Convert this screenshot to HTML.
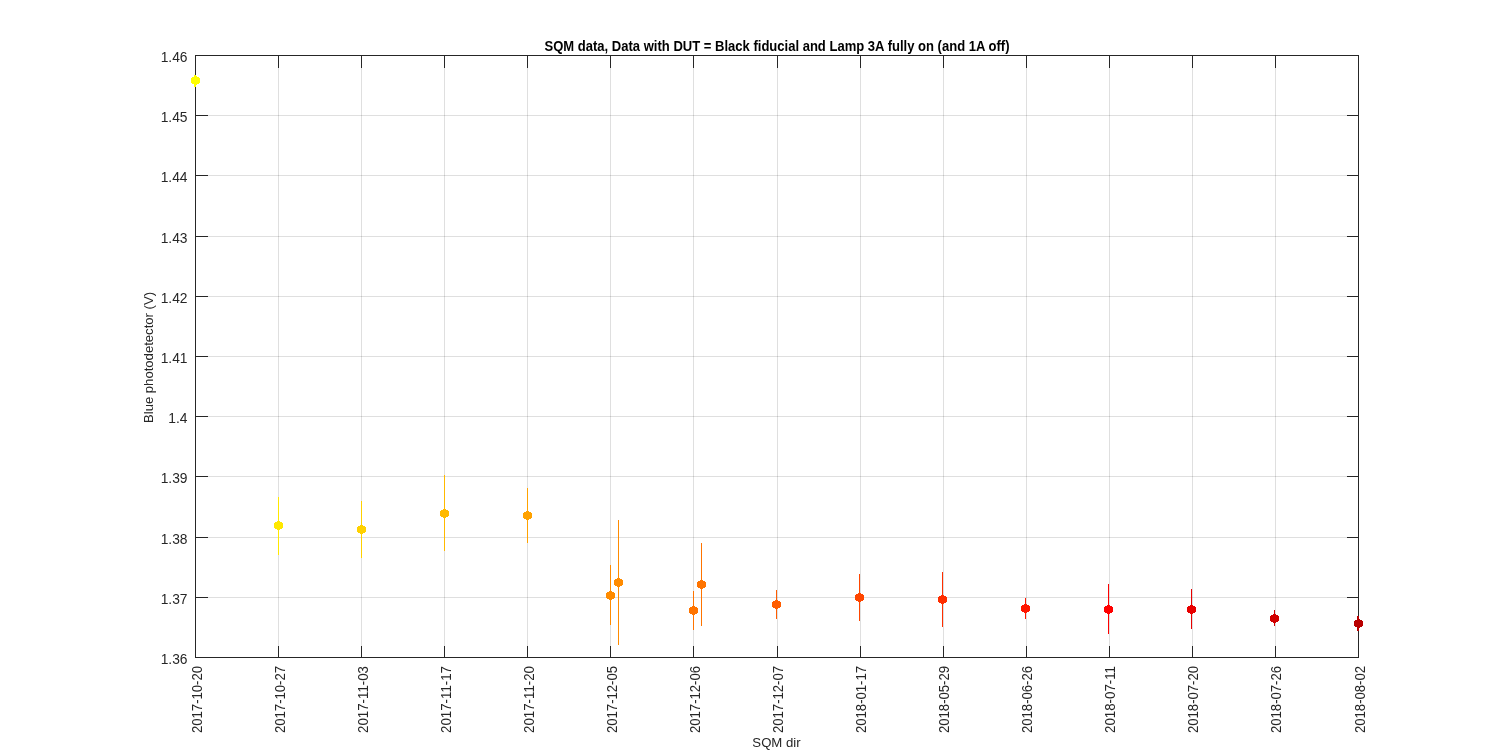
<!DOCTYPE html><html><head><meta charset="utf-8"><style>html,body{margin:0;padding:0;background:#fff;width:1500px;height:750px;overflow:hidden}svg{display:block;will-change:transform}text{font-family:"Liberation Sans",sans-serif;fill:#262626}</style></head><body>
<svg width="1500" height="750" viewBox="0 0 1500 750">
<rect x="0" y="0" width="1500" height="750" fill="#fff"/>
<path d="M278.5 56V657M361.5 56V657M444.5 56V657M527.5 56V657M610.5 56V657M693.5 56V657M777.5 56V657M860.5 56V657M943.5 56V657M1026.5 56V657M1109.5 56V657M1192.5 56V657M1275.5 56V657" stroke="#262626" stroke-opacity="0.15" stroke-width="1" fill="none" shape-rendering="crispEdges"/>
<path d="M196 115.5H1358M196 175.5H1358M196 236.5H1358M196 296.5H1358M196 356.5H1358M196 416.5H1358M196 476.5H1358M196 537.5H1358M196 597.5H1358" stroke="#262626" stroke-opacity="0.15" stroke-width="1" fill="none" shape-rendering="crispEdges"/>
<path d="M195.5 55.5H1358.5V657.5H195.5ZM195.5 657.5V645.5M195.5 55.5V67.5M278.5 657.5V645.5M278.5 55.5V67.5M361.5 657.5V645.5M361.5 55.5V67.5M444.5 657.5V645.5M444.5 55.5V67.5M527.5 657.5V645.5M527.5 55.5V67.5M610.5 657.5V645.5M610.5 55.5V67.5M693.5 657.5V645.5M693.5 55.5V67.5M777.5 657.5V645.5M777.5 55.5V67.5M860.5 657.5V645.5M860.5 55.5V67.5M943.5 657.5V645.5M943.5 55.5V67.5M1026.5 657.5V645.5M1026.5 55.5V67.5M1109.5 657.5V645.5M1109.5 55.5V67.5M1192.5 657.5V645.5M1192.5 55.5V67.5M1275.5 657.5V645.5M1275.5 55.5V67.5M1358.5 657.5V645.5M1358.5 55.5V67.5M195.5 55.5H207.5M1358.5 55.5H1346.5M195.5 115.5H207.5M1358.5 115.5H1346.5M195.5 175.5H207.5M1358.5 175.5H1346.5M195.5 236.5H207.5M1358.5 236.5H1346.5M195.5 296.5H207.5M1358.5 296.5H1346.5M195.5 356.5H207.5M1358.5 356.5H1346.5M195.5 416.5H207.5M1358.5 416.5H1346.5M195.5 476.5H207.5M1358.5 476.5H1346.5M195.5 537.5H207.5M1358.5 537.5H1346.5M195.5 597.5H207.5M1358.5 597.5H1346.5M195.5 657.5H207.5M1358.5 657.5H1346.5" stroke="#262626" stroke-width="1" fill="none" shape-rendering="crispEdges"/>
<rect x="194" y="75" width="2" height="12" fill="#ffff00" shape-rendering="crispEdges"/>
<path d="M194 76 L197 76 L197 77 L199 77 L199 78 L200 78 L200 83 L199 83 L199 84 L197 84 L197 85 L194 85 L194 84 L192 84 L192 83 L191 83 L191 78 L192 78 L192 77 L194 77Z" fill="#ffff00" shape-rendering="crispEdges"/>
<path d="M278.5 497V555" stroke="#ffe800" stroke-width="1" shape-rendering="crispEdges"/>
<path d="M277 521 L280 521 L280 522 L282 522 L282 523 L283 523 L283 528 L282 528 L282 529 L280 529 L280 530 L277 530 L277 529 L275 529 L275 528 L274 528 L274 523 L275 523 L275 522 L277 522Z" fill="#ffe800" shape-rendering="crispEdges"/>
<path d="M361.5 501V558" stroke="#ffd100" stroke-width="1" shape-rendering="crispEdges"/>
<path d="M360 525 L363 525 L363 526 L365 526 L365 527 L366 527 L366 532 L365 532 L365 533 L363 533 L363 534 L360 534 L360 533 L358 533 L358 532 L357 532 L357 527 L358 527 L358 526 L360 526Z" fill="#ffd100" shape-rendering="crispEdges"/>
<path d="M444.5 475V551" stroke="#ffb900" stroke-width="1" shape-rendering="crispEdges"/>
<path d="M443 509 L446 509 L446 510 L448 510 L448 511 L449 511 L449 516 L448 516 L448 517 L446 517 L446 518 L443 518 L443 517 L441 517 L441 516 L440 516 L440 511 L441 511 L441 510 L443 510Z" fill="#ffb900" shape-rendering="crispEdges"/>
<path d="M527.5 488V543" stroke="#ffa200" stroke-width="1" shape-rendering="crispEdges"/>
<path d="M526 511 L529 511 L529 512 L531 512 L531 513 L532 513 L532 518 L531 518 L531 519 L529 519 L529 520 L526 520 L526 519 L524 519 L524 518 L523 518 L523 513 L524 513 L524 512 L526 512Z" fill="#ffa200" shape-rendering="crispEdges"/>
<path d="M610.5 565V625" stroke="#ff8b00" stroke-width="1" shape-rendering="crispEdges"/>
<path d="M609 591 L612 591 L612 592 L614 592 L614 593 L615 593 L615 598 L614 598 L614 599 L612 599 L612 600 L609 600 L609 599 L607 599 L607 598 L606 598 L606 593 L607 593 L607 592 L609 592Z" fill="#ff8b00" shape-rendering="crispEdges"/>
<path d="M618.5 520V645" stroke="#ff8b00" stroke-width="1" shape-rendering="crispEdges"/>
<path d="M617 578 L620 578 L620 579 L622 579 L622 580 L623 580 L623 585 L622 585 L622 586 L620 586 L620 587 L617 587 L617 586 L615 586 L615 585 L614 585 L614 580 L615 580 L615 579 L617 579Z" fill="#ff8b00" shape-rendering="crispEdges"/>
<path d="M693.5 591V630" stroke="#ff7400" stroke-width="1" shape-rendering="crispEdges"/>
<path d="M692 606 L695 606 L695 607 L697 607 L697 608 L698 608 L698 613 L697 613 L697 614 L695 614 L695 615 L692 615 L692 614 L690 614 L690 613 L689 613 L689 608 L690 608 L690 607 L692 607Z" fill="#ff7400" shape-rendering="crispEdges"/>
<path d="M701.5 543V626" stroke="#ff7400" stroke-width="1" shape-rendering="crispEdges"/>
<path d="M700 580 L703 580 L703 581 L705 581 L705 582 L706 582 L706 587 L705 587 L705 588 L703 588 L703 589 L700 589 L700 588 L698 588 L698 587 L697 587 L697 582 L698 582 L698 581 L700 581Z" fill="#ff7400" shape-rendering="crispEdges"/>
<path d="M776.5 590V619" stroke="#ff5d00" stroke-width="1" shape-rendering="crispEdges"/>
<path d="M775 600 L778 600 L778 601 L780 601 L780 602 L781 602 L781 607 L780 607 L780 608 L778 608 L778 609 L775 609 L775 608 L773 608 L773 607 L772 607 L772 602 L773 602 L773 601 L775 601Z" fill="#ff5d00" shape-rendering="crispEdges"/>
<path d="M859.5 574V621" stroke="#ff4600" stroke-width="1" shape-rendering="crispEdges"/>
<path d="M858 593 L861 593 L861 594 L863 594 L863 595 L864 595 L864 600 L863 600 L863 601 L861 601 L861 602 L858 602 L858 601 L856 601 L856 600 L855 600 L855 595 L856 595 L856 594 L858 594Z" fill="#ff4600" shape-rendering="crispEdges"/>
<path d="M942.5 572V627" stroke="#ff2e00" stroke-width="1" shape-rendering="crispEdges"/>
<path d="M941 595 L944 595 L944 596 L946 596 L946 597 L947 597 L947 602 L946 602 L946 603 L944 603 L944 604 L941 604 L941 603 L939 603 L939 602 L938 602 L938 597 L939 597 L939 596 L941 596Z" fill="#ff2e00" shape-rendering="crispEdges"/>
<path d="M1025.5 598V619" stroke="#ff1700" stroke-width="1" shape-rendering="crispEdges"/>
<path d="M1024 604 L1027 604 L1027 605 L1029 605 L1029 606 L1030 606 L1030 611 L1029 611 L1029 612 L1027 612 L1027 613 L1024 613 L1024 612 L1022 612 L1022 611 L1021 611 L1021 606 L1022 606 L1022 605 L1024 605Z" fill="#ff1700" shape-rendering="crispEdges"/>
<path d="M1108.5 584V634" stroke="#ff0000" stroke-width="1" shape-rendering="crispEdges"/>
<path d="M1107 605 L1110 605 L1110 606 L1112 606 L1112 607 L1113 607 L1113 612 L1112 612 L1112 613 L1110 613 L1110 614 L1107 614 L1107 613 L1105 613 L1105 612 L1104 612 L1104 607 L1105 607 L1105 606 L1107 606Z" fill="#ff0000" shape-rendering="crispEdges"/>
<path d="M1191.5 589V629" stroke="#e80000" stroke-width="1" shape-rendering="crispEdges"/>
<path d="M1190 605 L1193 605 L1193 606 L1195 606 L1195 607 L1196 607 L1196 612 L1195 612 L1195 613 L1193 613 L1193 614 L1190 614 L1190 613 L1188 613 L1188 612 L1187 612 L1187 607 L1188 607 L1188 606 L1190 606Z" fill="#e80000" shape-rendering="crispEdges"/>
<path d="M1274.5 610V626" stroke="#d10000" stroke-width="1" shape-rendering="crispEdges"/>
<path d="M1273 614 L1276 614 L1276 615 L1278 615 L1278 616 L1279 616 L1279 621 L1278 621 L1278 622 L1276 622 L1276 623 L1273 623 L1273 622 L1271 622 L1271 621 L1270 621 L1270 616 L1271 616 L1271 615 L1273 615Z" fill="#d10000" shape-rendering="crispEdges"/>
<rect x="1357" y="616" width="2" height="15" fill="#b90000" shape-rendering="crispEdges"/>
<path d="M1357 619 L1360 619 L1360 620 L1362 620 L1362 621 L1363 621 L1363 626 L1362 626 L1362 627 L1360 627 L1360 628 L1357 628 L1357 627 L1355 627 L1355 626 L1354 626 L1354 621 L1355 621 L1355 620 L1357 620Z" fill="#b90000" shape-rendering="crispEdges"/>
<text x="187.5" y="61.90" font-size="13.8" text-anchor="end">1.46</text>
<text x="187.5" y="122.10" font-size="13.8" text-anchor="end">1.45</text>
<text x="187.5" y="182.30" font-size="13.8" text-anchor="end">1.44</text>
<text x="187.5" y="242.50" font-size="13.8" text-anchor="end">1.43</text>
<text x="187.5" y="302.70" font-size="13.8" text-anchor="end">1.42</text>
<text x="187.5" y="362.90" font-size="13.8" text-anchor="end">1.41</text>
<text x="187.5" y="423.10" font-size="13.8" text-anchor="end">1.4</text>
<text x="187.5" y="483.30" font-size="13.8" text-anchor="end">1.39</text>
<text x="187.5" y="543.50" font-size="13.8" text-anchor="end">1.38</text>
<text x="187.5" y="603.70" font-size="13.8" text-anchor="end">1.37</text>
<text x="187.5" y="663.90" font-size="13.8" text-anchor="end">1.36</text>
<text transform="translate(201.50 666) rotate(-90)" font-size="13.8" text-anchor="end" textLength="67" lengthAdjust="spacingAndGlyphs">2017-10-20</text>
<text transform="translate(284.57 666) rotate(-90)" font-size="13.8" text-anchor="end" textLength="67" lengthAdjust="spacingAndGlyphs">2017-10-27</text>
<text transform="translate(367.64 666) rotate(-90)" font-size="13.8" text-anchor="end" textLength="67" lengthAdjust="spacingAndGlyphs">2017-11-03</text>
<text transform="translate(450.71 666) rotate(-90)" font-size="13.8" text-anchor="end" textLength="67" lengthAdjust="spacingAndGlyphs">2017-11-17</text>
<text transform="translate(533.79 666) rotate(-90)" font-size="13.8" text-anchor="end" textLength="67" lengthAdjust="spacingAndGlyphs">2017-11-20</text>
<text transform="translate(616.86 666) rotate(-90)" font-size="13.8" text-anchor="end" textLength="67" lengthAdjust="spacingAndGlyphs">2017-12-05</text>
<text transform="translate(699.93 666) rotate(-90)" font-size="13.8" text-anchor="end" textLength="67" lengthAdjust="spacingAndGlyphs">2017-12-06</text>
<text transform="translate(783.00 666) rotate(-90)" font-size="13.8" text-anchor="end" textLength="67" lengthAdjust="spacingAndGlyphs">2017-12-07</text>
<text transform="translate(866.07 666) rotate(-90)" font-size="13.8" text-anchor="end" textLength="67" lengthAdjust="spacingAndGlyphs">2018-01-17</text>
<text transform="translate(949.14 666) rotate(-90)" font-size="13.8" text-anchor="end" textLength="67" lengthAdjust="spacingAndGlyphs">2018-05-29</text>
<text transform="translate(1032.21 666) rotate(-90)" font-size="13.8" text-anchor="end" textLength="67" lengthAdjust="spacingAndGlyphs">2018-06-26</text>
<text transform="translate(1115.29 666) rotate(-90)" font-size="13.8" text-anchor="end" textLength="67" lengthAdjust="spacingAndGlyphs">2018-07-11</text>
<text transform="translate(1198.36 666) rotate(-90)" font-size="13.8" text-anchor="end" textLength="67" lengthAdjust="spacingAndGlyphs">2018-07-20</text>
<text transform="translate(1281.43 666) rotate(-90)" font-size="13.8" text-anchor="end" textLength="67" lengthAdjust="spacingAndGlyphs">2018-07-26</text>
<text transform="translate(1364.50 666) rotate(-90)" font-size="13.8" text-anchor="end" textLength="67" lengthAdjust="spacingAndGlyphs">2018-08-02</text>
<text x="776.5" y="747" font-size="13.33" text-anchor="middle" textLength="48.3" lengthAdjust="spacingAndGlyphs">SQM dir</text>
<text transform="translate(153 357.5) rotate(-90)" font-size="13.1" text-anchor="middle" textLength="131" lengthAdjust="spacingAndGlyphs">Blue photodetector (V)</text>
<text x="777" y="51" font-size="13.8" font-weight="bold" text-anchor="middle" fill="#000" style="fill:#000" textLength="465" lengthAdjust="spacingAndGlyphs">SQM data, Data with DUT = Black fiducial and Lamp 3A fully on (and 1A off)</text>
</svg></body></html>
